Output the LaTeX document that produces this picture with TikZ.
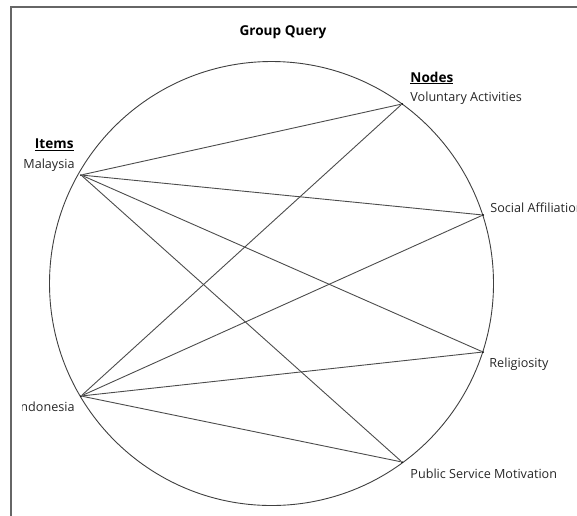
\documentclass[tikz,border=0pt]{standalone}
\usepackage{fontspec}
\setmainfont{Open Sans}
\usetikzlibrary{positioning}

\begin{document}
\begin{tikzpicture}[x=1pt,y=-1pt,line width=0.9pt,
  pt/.style={circle,fill=black,inner sep=0pt,minimum size=2pt},
  lbl/.style={inner sep=0pt,text=black!85,font=\fontsize{12.6}{14}\selectfont},
  hdr/.style={inner sep=0pt,text=black,font=\fontsize{13.6}{15}\selectfont\bfseries},
  link/.style={draw=black!70,line width=0.9pt}]
\useasboundingbox (0,0) rectangle (577,515);
\clip (0,0) rectangle (577,515);
\draw[black!60,line width=1.2pt] (11,520)--(11,7)--(580,7);
\node[hdr] (title) at (283,32) {Group Query};
\draw[black!75] (271.5,283.5) circle (222);
% items
\node[pt] (mal) at (81,175) {};
\node[pt] (ind) at (81,396) {};
% nodes
\node[pt] (vol) at (402,104) {};
\node[pt] (soc) at (483,215) {};
\node[pt] (rel) at (483,352) {};
\node[pt] (psm) at (402,462) {};
\node[hdr,anchor=east] (items) at (74,145) {\underline{Items}};
\node[lbl,anchor=east] (malt) at (75,165) {Malaysia};
\begin{scope}
\clip (22.5,390) rectangle (90,425);
\node[lbl,anchor=east] (indt) at (75,407) {Indonesia};
\end{scope}
\node[hdr,anchor=west] (nodes) at (410,78) {\underline{Nodes}};
\node[lbl,anchor=west] (volt) at (410,98) {Voluntary Activities};
\node[lbl,anchor=west] (soct) at (490,208) {Social Affiliation};
\node[lbl,anchor=west] (relt) at (489,364) {Religiosity};
\node[lbl,anchor=west] (psmt) at (410,474) {Public Service Motivation};
\foreach \a in {mal,ind}
  \foreach \b in {vol,soc,rel,psm}
    \draw[link] (\a) -- (\b);
\end{tikzpicture}
\end{document}
